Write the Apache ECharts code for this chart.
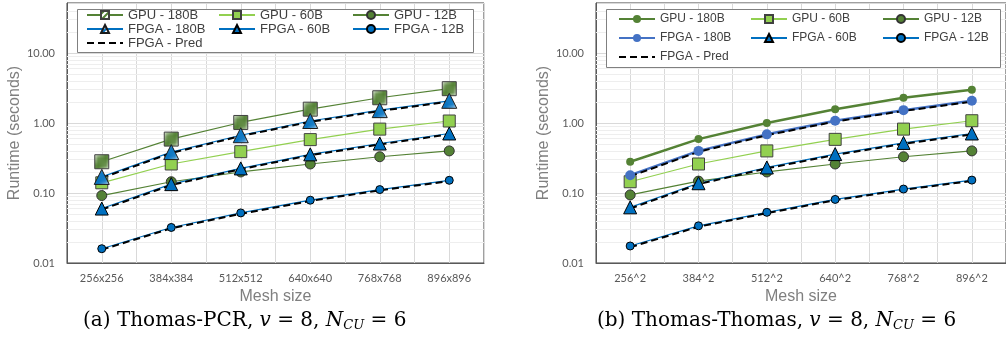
<!DOCTYPE html>
<html>
<head>
<meta charset="utf-8">
<script src="https://cdn.jsdelivr.net/npm/echarts@6/dist/echarts.min.js"></script>
<style>
  html, body { margin: 0; padding: 0; background: #fff; }
  #chart { width: 1006px; height: 343px; }
</style>
</head>
<body>
<div id="chart"></div>
<script>
// categories
const meshA = ['256x256', '384x384', '512x512', '640x640', '768x768', '896x896'];
const meshB = ['256^2', '384^2', '512^2', '640^2', '768^2', '896^2'];

// (a) Thomas-PCR, runtime in seconds
const gpu180A = [0.28, 0.59, 1.02, 1.58, 2.3, 3.1];
const gpu60A = [0.14, 0.26, 0.39, 0.58, 0.82, 1.07];
const gpu12A = [0.092, 0.145, 0.20, 0.26, 0.33, 0.40];
const fpga180A = [0.17, 0.385, 0.67, 1.07, 1.53, 2.08];
const fpga60A = [0.060, 0.134, 0.225, 0.357, 0.51, 0.71];
const fpga12A = [0.016, 0.0322, 0.052, 0.079, 0.112, 0.152];
const pred180A = [0.164, 0.373, 0.652, 1.04, 1.49, 2.02];
const pred60A = [0.058, 0.130, 0.219, 0.347, 0.495, 0.69];
const pred12A = [0.0155, 0.0313, 0.0505, 0.077, 0.109, 0.148];

// (b) Thomas-Thomas
const gpu180B = [0.28, 0.59, 1.0, 1.58, 2.3, 3.0];
const gpu60B = [0.145, 0.26, 0.40, 0.585, 0.82, 1.08];
const gpu12B = [0.094, 0.148, 0.20, 0.26, 0.33, 0.40];
const fpga180B = [0.18, 0.40, 0.69, 1.08, 1.53, 2.08];
const fpga60B = [0.0625, 0.138, 0.232, 0.36, 0.52, 0.71];
const fpga12B = [0.0175, 0.034, 0.053, 0.081, 0.114, 0.153];
const pred180B = [0.173, 0.388, 0.67, 1.05, 1.49, 2.02];
const pred60B = [0.060, 0.134, 0.225, 0.35, 0.505, 0.69];
const pred12B = [0.0168, 0.033, 0.0515, 0.079, 0.111, 0.149];

// y axis range + minor log grid lines
const yMin = 0.01;
const yMax = 52;
const minorGrid = [0.02, 0.03, 0.04, 0.05, 0.06, 0.07, 0.08, 0.09,
  0.2, 0.3, 0.4, 0.5, 0.6, 0.7, 0.8, 0.9,
  2, 3, 4, 5, 6, 7, 8, 9, 20, 30, 40];

const GREEN = '#548235', LIGHT = '#92D050', BLUE = '#0070C0', BLUE2 = '#4472C4';

function stripes(fg) {
  const c = document.createElement('canvas');
  c.width = c.height = 6;
  const g = c.getContext('2d');
  g.fillStyle = '#fff';
  g.fillRect(0, 0, 6, 6);
  g.strokeStyle = fg;
  g.lineWidth = 2;
  g.beginPath();
  for (const k of [0, 6, 12]) {
    g.moveTo(-1, k + 1);
    g.lineTo(k + 1, -1);
  }
  g.stroke();
  return {image: c, repeat: 'repeat'};
}

const chart = echarts.init(document.getElementById('chart'));

const axisGray = '#595959';
const labelFont = {color: axisGray, fontFamily: 'Lato', fontSize: 11};
const grids = [
  {left: 67, top: 3, width: 417, height: 260},
  {left: 596, top: 3, width: 417, height: 260}
];

function xAxes(gi, cats) {
  return [{
    type: 'category', gridIndex: gi, data: cats,
    axisLine: {lineStyle: {color: axisGray, width: 1}},
    axisTick: {alignWithLabel: true, length: 4, lineStyle: {color: '#a6a6a6'}},
    axisLabel: Object.assign({margin: 10}, labelFont),
    splitLine: {show: false},
    name: 'Mesh size', nameLocation: 'middle', nameGap: 25,
    nameTextStyle: {fontFamily: 'Liberation Sans', fontSize: 16, color: '#7f7f7f'}
  }, {
    // half-category vertical grid lines
    type: 'value', gridIndex: gi, min: 0, max: 12, interval: 1, position: 'top',
    axisLine: {show: false}, axisTick: {show: false}, axisLabel: {show: false},
    splitLine: {lineStyle: {color: '#d9d9d9'}}
  }];
}

function yAxis(gi, gap) {
  return {
    type: 'log', logBase: 10, gridIndex: gi, min: yMin, max: yMax,
    axisLine: {show: true, lineStyle: {color: axisGray}},
    axisTick: {show: false},
    axisLabel: Object.assign({
      margin: 12, showMaxLabel: false,
      formatter(v) {
        const l = Math.log10(v);
        return Math.abs(l - Math.round(l)) < 1e-6 ? v.toFixed(2) : '';
      }
    }, labelFont),
    splitLine: {lineStyle: {color: '#d9d9d9'}},
    name: 'Runtime (seconds)', nameLocation: 'middle', nameGap: gap,
    nameTextStyle: {fontFamily: 'Liberation Sans', fontSize: 16, color: '#7f7f7f'}
  };
}

function minorSeries(gi) {
  return {
    name: 'minor' + gi, type: 'line', xAxisIndex: gi * 2, yAxisIndex: gi, data: [], z: 1,
    markLine: {
      silent: true, symbol: 'none', label: {show: false}, z: 1,
      lineStyle: {color: '#eeeeee', type: 'solid', width: 1},
      data: minorGrid.map(v => ({yAxis: v}))
    }
  };
}

function line(name, gi, data, color, width, symbol, size, fill, border) {
  return {
    name, type: 'line', xAxisIndex: gi * 2, yAxisIndex: gi, data,
    symbol, symbolSize: size, showAllSymbol: true,
    lineStyle: {color, width},
    itemStyle: {color: fill, borderColor: border || fill, borderWidth: border ? 1 : 0}
  };
}

function pred(name, gi, data) {
  return {
    name, type: 'line', xAxisIndex: gi * 2, yAxisIndex: gi, data, symbol: 'none', z: 3,
    lineStyle: {color: '#000', width: 2, type: [7, 4]},
    itemStyle: {color: '#000'}
  };
}

const series = [
  minorSeries(0), minorSeries(1),
  line('GPU - 180B', 0, gpu180A, GREEN, 1.2, 'rect', 14, stripes(GREEN), '#404040'),
  line('GPU - 60B', 0, gpu60A, LIGHT, 1.2, 'rect', 12, LIGHT, '#404040'),
  line('GPU - 12B', 0, gpu12A, GREEN, 1.2, 'circle', 10, GREEN, '#333'),
  line('FPGA - 180B', 0, fpga180A, BLUE, 1.2, 'triangle', 15, stripes(BLUE), '#1a1a1a'),
  line('FPGA - 60B', 0, fpga60A, BLUE, 1.2, 'triangle', 13, BLUE, '#000'),
  line('FPGA - 12B', 0, fpga12A, BLUE, 1.2, 'circle', 8, BLUE, '#000'),
  pred('FPGA - Pred', 0, pred180A),
  pred('FPGA - Pred', 0, pred60A),
  pred('FPGA - Pred', 0, pred12A),

  line('GPU - 180B#b', 1, gpu180B, GREEN, 2.5, 'circle', 8, GREEN),
  line('GPU - 60B#b', 1, gpu60B, LIGHT, 1.2, 'rect', 12, LIGHT, '#404040'),
  line('GPU - 12B#b', 1, gpu12B, GREEN, 1.2, 'circle', 10, GREEN, '#333'),
  line('FPGA - 180B#b', 1, fpga180B, BLUE2, 2.5, 'circle', 10, BLUE2),
  line('FPGA - 60B#b', 1, fpga60B, BLUE, 1.2, 'triangle', 13, BLUE, '#000'),
  line('FPGA - 12B#b', 1, fpga12B, BLUE, 1.2, 'circle', 8, BLUE, '#000'),
  pred('FPGA - Pred#b', 1, pred180B),
  pred('FPGA - Pred#b', 1, pred60B),
  pred('FPGA - Pred#b', 1, pred12B)
];

function legend(left, top, gap, size, names) {
  return {
    orient: 'vertical', left, top, padding: 0, itemGap: gap,
    itemWidth: 36, itemHeight: 10, selectedMode: false,
    textStyle: {fontFamily: 'Liberation Sans', fontSize: size, lineHeight: 14, color: '#404040'},
    formatter: n => n.split('#')[0],
    // the prediction line has no marker
    data: names.map(n => n.indexOf('Pred') >= 0 ? {name: n, itemStyle: {opacity: 0}} : n)
  };
}

const rich = {
  n: {fontFamily: 'DejaVu Serif', fontSize: 20, color: '#000'},
  i: {fontFamily: 'DejaVu Serif', fontStyle: 'italic', fontSize: 20, color: '#000'},
  s: {fontFamily: 'DejaVu Serif', fontStyle: 'italic', fontSize: 13, color: '#000', verticalAlign: 'bottom', padding: [9, 0, 0, 0]}
};

function caption(x, text) {
  return {
    type: 'text', left: x, top: 311, z: 5,
    style: {
      text: '{n|' + text + ', }{i|v}{n| = 8, }{i|N}{s|CU}{n| = 6}',
      rich
    }
  };
}

chart.setOption({
  animation: false,
  grid: grids.map(g => Object.assign({show: true, borderColor: '#404040', borderWidth: 1}, g)),
  xAxis: xAxes(0, meshA).concat(xAxes(1, meshB)),
  yAxis: [yAxis(0, 43), yAxis(1, 44)],
  legend: [
    legend(86, 8, 0, 13, ['GPU - 180B', 'FPGA - 180B', 'FPGA - Pred']),
    legend(218, 8, 0, 13, ['GPU - 60B', 'FPGA - 60B']),
    legend(352, 8, 0, 13, ['GPU - 12B', 'FPGA - 12B']),
    legend(618, 12, 5, 12, ['GPU - 180B#b', 'FPGA - 180B#b', 'FPGA - Pred#b']),
    legend(750, 12, 5, 12, ['GPU - 60B#b', 'FPGA - 60B#b']),
    legend(882, 12, 5, 12, ['GPU - 12B#b', 'FPGA - 12B#b'])
  ],
  graphic: [
    {type: 'rect', z: 3, shape: {x: 77.5, y: 9.5, width: 396, height: 43}, style: {fill: '#fff', stroke: '#808080', lineWidth: 1}},
    {type: 'rect', z: 3, shape: {x: 606.5, y: 9.5, width: 394, height: 58}, style: {fill: '#fff', stroke: '#808080', lineWidth: 1}},
    caption(83, '(a) Thomas-PCR'),
    caption(597, '(b) Thomas-Thomas')
  ],
  series
});
</script>
</body>
</html>
